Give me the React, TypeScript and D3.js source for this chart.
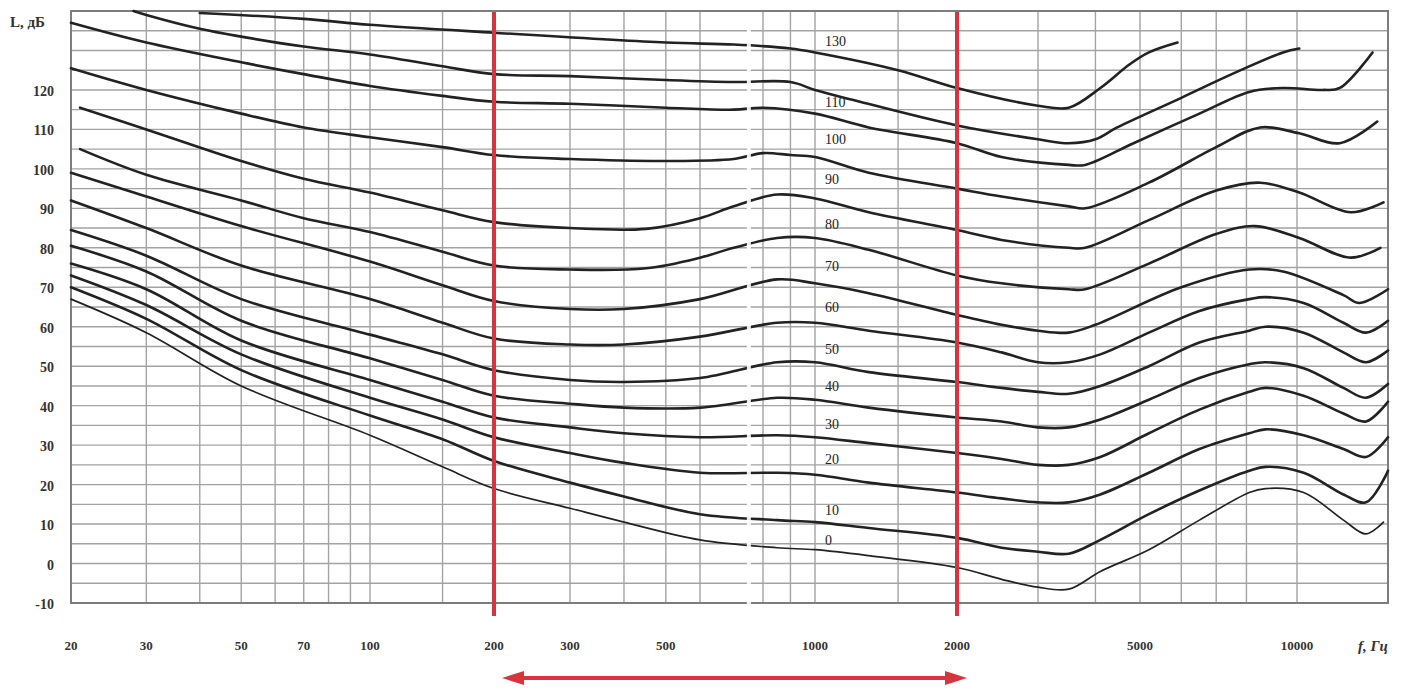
import React from 'react';
import * as d3 from 'd3';

// equal-loudness contours (frequency Hz, level dB)
const phon130 = [[40, 139.5], [70, 138], [100, 136.5], [200, 134.5], [500, 132], [700, 131.5], [900, 130.5], [1000, 129.5], [1500, 125], [2000, 120.5], [3000, 116], [3500, 115.5], [4100, 120.5], [4750, 126.5], [5200, 129.5], [5900, 132]];
const phon120 = [[28, 140], [30, 139], [40, 135.5], [50, 133.5], [70, 131], [100, 129], [150, 126], [200, 124], [300, 123.5], [500, 122.5], [700, 122], [900, 122], [1000, 120], [1200, 117.5], [2000, 111], [3000, 107.5], [3500, 106.5], [4000, 107.5], [4460, 110.5], [6000, 118], [7500, 124], [9400, 129.5], [10100, 130.5]];
const phon110 = [[20, 137], [30, 132], [50, 127], [70, 124], [100, 121], [150, 118.5], [200, 117], [300, 116.5], [500, 115.5], [700, 115], [800, 115.5], [1000, 114], [1300, 110.5], [2000, 106.5], [2500, 103], [3500, 101], [3800, 101], [4840, 106.5], [6500, 114], [8100, 119.5], [9400, 120.5], [11200, 120], [12100, 120.5], [14000, 129.5]];
const phon100 = [[20, 125.5], [30, 120], [50, 114], [70, 110.5], [100, 108], [150, 105.5], [200, 103.5], [300, 102.5], [500, 102], [700, 102.5], [800, 104], [900, 103.5], [1000, 103], [1300, 99], [2000, 95], [2500, 93], [3500, 90.5], [3800, 90], [5200, 96.5], [7000, 105.5], [8500, 110.5], [10100, 109], [12100, 106.5], [14300, 112]];
const phon90 = [[21, 115.5], [30, 110], [50, 102], [70, 97.5], [100, 94], [150, 89.5], [200, 86.5], [300, 85], [450, 84.8], [600, 87.5], [700, 90.5], [850, 93.5], [1000, 92.5], [1300, 89], [2000, 84.5], [2500, 82], [3500, 80], [3800, 80], [5200, 87], [7000, 94.5], [8500, 96.5], [10100, 94], [12700, 89], [14700, 91.5]];
const phon80 = [[21, 105], [30, 98.5], [50, 92], [70, 87.5], [100, 84], [150, 79], [200, 75.5], [300, 74.5], [450, 74.8], [600, 77.5], [700, 80], [850, 82.5], [1000, 82.5], [1300, 79.5], [2000, 73], [2500, 71], [3500, 69.5], [3800, 69.5], [5200, 76], [7000, 83.5], [8300, 85.5], [10100, 82.5], [12700, 77.5], [14500, 80]];
const phon70 = [[20, 99], [30, 93], [50, 85.5], [100, 76.5], [150, 70.5], [200, 66.5], [300, 64.5], [400, 64.5], [600, 67], [850, 72], [1000, 71], [1300, 68.5], [2000, 63], [2500, 60.5], [3000, 59], [3500, 58.5], [4000, 60.5], [6000, 70], [8100, 74.5], [9400, 74], [12300, 68], [13200, 66], [15000, 69.5]];
const phon60 = [[20, 92], [30, 85], [50, 75.5], [100, 67], [150, 61], [200, 57], [300, 55.5], [400, 55.5], [600, 57.5], [850, 61], [1000, 61], [1300, 59], [2000, 56], [2500, 53.5], [3000, 51], [3500, 51], [4100, 53], [5200, 58.5], [6500, 64], [8100, 67], [8700, 67.5], [10300, 66], [12300, 61], [13600, 58.5], [15000, 61.5]];
const phon50 = [[20, 84.5], [30, 78], [50, 67], [100, 58], [150, 53], [200, 49], [300, 46.5], [400, 46], [600, 47], [850, 51], [1000, 51], [1300, 48.5], [2000, 46], [2500, 44.5], [3000, 43.5], [3500, 43], [4100, 45], [5200, 50], [6500, 56], [8100, 59], [8700, 60], [10300, 58.5], [12300, 53.5], [13600, 51], [15000, 54]];
const phon40 = [[20, 80.5], [30, 74], [50, 61.5], [100, 52], [150, 46.5], [200, 42.5], [300, 40.5], [400, 39.5], [600, 39.5], [850, 42], [1000, 41.5], [1300, 39.5], [2000, 37], [2500, 36], [3000, 34.5], [3500, 34.5], [4100, 36.5], [5200, 41.5], [6500, 47], [8100, 50.5], [8700, 51], [10300, 49.5], [12300, 44.5], [13600, 42], [15000, 45.5]];
const phon30 = [[20, 76], [30, 69.5], [50, 56.5], [100, 46.5], [150, 41], [200, 37], [300, 34.5], [400, 33], [600, 32], [850, 32.5], [1000, 32], [1300, 30.5], [2000, 28], [2500, 26.5], [3000, 25], [3500, 25], [4100, 27], [5200, 33], [6500, 39], [8100, 43.5], [8700, 44.5], [10300, 42.5], [12300, 38], [13600, 36], [15000, 41]];
const phon20 = [[20, 73], [30, 65.5], [50, 53], [100, 42], [150, 36.5], [200, 32], [300, 28], [400, 25.5], [600, 23], [850, 23], [1000, 22.5], [1300, 20.5], [2000, 18], [2500, 16.5], [3000, 15.5], [3500, 15.5], [4100, 17.5], [5200, 23], [6500, 29], [8100, 33], [8700, 34], [10300, 32.5], [12300, 29], [13600, 27], [15000, 32]];
const phon10 = [[20, 70], [30, 62], [50, 49], [100, 37.5], [150, 31.5], [200, 26], [300, 20.5], [400, 17], [600, 12.5], [850, 11], [1000, 10.5], [1300, 9], [2000, 6.5], [2500, 4], [3000, 3], [3500, 2.5], [4100, 6], [5200, 12.5], [6500, 18.5], [8100, 23.5], [8700, 24.5], [10300, 23], [12300, 17.5], [13600, 15.5], [15000, 23.5]];
const phon0 = [[20, 67], [30, 58.5], [50, 45], [100, 32.5], [150, 24.5], [200, 19], [300, 14], [400, 10.5], [600, 6], [850, 4], [1000, 3.5], [1300, 2], [2000, -1], [2500, -4], [3000, -6], [3500, -6.5], [4100, -2], [5200, 3.5], [6500, 11], [8100, 18], [8700, 19], [10300, 18], [12300, 11], [13600, 7.5], [14700, 10.5]];

const curves = [phon130, phon120, phon110, phon100, phon90, phon80, phon70, phon60, phon50, phon40, phon30, phon20, phon10, phon0];

// labels written beside the curves, just right of 1 kHz
const curveLabels = ['130', '110', '100', '90', '80', '70', '60', '50', '40', '30', '20', '10', '0'];
const curveLabelDb = [132, 116.5, 107, 97, 85.5, 75, 64.5, 54, 44.5, 35, 26, 13, 5.5];
const curveLabelHz = 1050;

const yTicks = [-10, 0, 10, 20, 30, 40, 50, 60, 70, 80, 90, 100, 110, 120];
const xTicks = [20, 30, 50, 70, 100, 200, 300, 500, 1000, 2000, 5000, 10000];
const gridHz = [30, 40, 50, 60, 70, 80, 90, 100, 150, 200, 300, 400, 500, 600, 800, 900, 1000, 1500, 2000, 3000, 4000, 5000, 6000, 7000, 8000, 10000];
const markedHz = [200, 2000]; // speech band shown in red
const spliceHz = 750; // white seam where the scan was glued

const App = () => {
  const width = 1405;
  const height = 693;
  const font = '"Liberation Serif", "DejaVu Serif", serif';

  // the printed grid is not a clean log axis, so the scale is piecewise
  const x = d3.scaleLog()
    .domain([20, 100, 200, 600, 800, 1000, 2000, 5000, 10000, 15000])
    .range([71, 370, 494, 700, 763, 815, 957, 1140, 1297, 1388]);
  const y = d3.scaleLinear().domain([-10, 140]).range([603, 11]);

  const [x0, x1] = [x(20), x(15000)];
  const [yb, yt] = [y(-10), y(140)];
  const hLines = d3.range(-10, 141, 5);

  const line = d3.line<number[]>()
    .x(d => x(d[0]))
    .y(d => y(d[1]))
    .curve(d3.curveCatmullRom.alpha(0.5));

  const red = '#d7353d';
  const ay = 678;
  const ax0 = x(markedHz[0]) + 8;
  const ax1 = x(markedHz[1]) + 10;

  return (
    <svg width={width} height={height} style={{ position: 'absolute', left: 0, top: 0, background: '#fff' }}>
      {/* grid */}
      <g stroke="#a3a3a3" strokeWidth={1.4}>
        {hLines.map(v => <line key={'h' + v} x1={x0} x2={x1} y1={y(v)} y2={y(v)} />)}
        {gridHz.map(f => <line key={'v' + f} x1={x(f)} x2={x(f)} y1={yt} y2={yb} />)}
      </g>
      <rect x={x0} y={yt} width={x1 - x0} height={yb - yt} fill="none" stroke="#7d7d7d" strokeWidth={2} />

      {/* contours */}
      <g fill="none" stroke="#222" strokeLinejoin="round" strokeLinecap="round">
        {curves.map((c, i) => (
          <path key={i} d={line(c) || ''} strokeWidth={i === curves.length - 1 ? 1.7 : 2.6} />
        ))}
      </g>

      {/* seam of the scan */}
      <rect x={x(spliceHz) - 2} y={yt + 4} width={4} height={yb - yt + 2} fill="#fff" opacity={0.9} />

      {/* curve labels */}
      <g fontFamily={font} fontSize={14} fill="#222" dominantBaseline="middle">
        {curveLabels.map((t, i) => (
          <text key={t + i} x={x(curveLabelHz)} y={y(curveLabelDb[i])}>{t}</text>
        ))}
      </g>

      {/* red band limits */}
      <g stroke={red} strokeWidth={4}>
        {markedHz.map(f => <line key={f} x1={x(f)} x2={x(f)} y1={yt + 1} y2={yb + 13} />)}
      </g>
      <line x1={ax0 + 16} x2={ax1 - 16} y1={ay} y2={ay} stroke={red} strokeWidth={4} />
      <path d={`M${ax0},${ay} L${ax0 + 22},${ay - 7} L${ax0 + 22},${ay + 7} Z`} fill={red} />
      <path d={`M${ax1},${ay} L${ax1 - 22},${ay - 7} L${ax1 - 22},${ay + 7} Z`} fill={red} />

      {/* y axis */}
      <g fontFamily={font} fontSize={14} fontWeight="bold" fill="#333" textAnchor="end">
        {yTicks.map(v => <text key={v} x={54} y={y(v) + 6}>{v}</text>)}
      </g>
      <text x={10} y={27} fontFamily={font} fontSize={15} fontWeight="bold" fill="#333">L, дБ</text>

      {/* x axis */}
      <g fontFamily={font} fontSize={13} fontWeight="bold" fill="#333" textAnchor="middle">
        {xTicks.map(f => <text key={f} x={x(f)} y={650}>{f}</text>)}
      </g>
      <text x={1358} y={651} fontFamily={font} fontSize={15} fontStyle="italic" fontWeight="bold" fill="#333">f, Гц</text>
    </svg>
  );
};

export default App;
